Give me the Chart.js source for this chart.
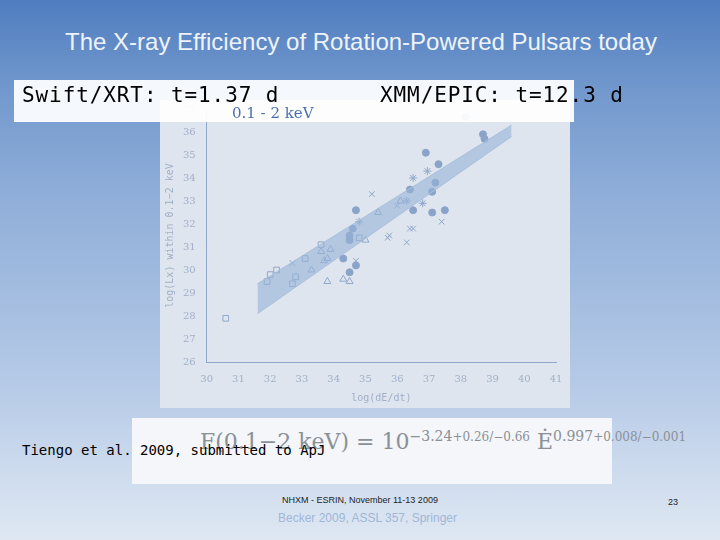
<!DOCTYPE html><html><head><meta charset="utf-8">
<script src="https://cdn.jsdelivr.net/npm/chart.js@4"></script>
<style>
body{margin:0;width:720px;height:540px;overflow:hidden;position:relative;font-family:"Liberation Sans",sans-serif;
background:linear-gradient(180deg,#4f7dbf 0%,#6f96cc 15%,#8eadd8 35%,#b4c9e6 70%,#dfe8f3 100%);}
.abs{position:absolute}
#title{left:0;width:722px;top:28px;text-align:center;color:#eef3fa;font-size:24px}
#strip{left:14px;top:80px;width:560px;height:42px;background:rgba(255,255,255,0.93);z-index:3}
.mono{font-family:"DejaVu Sans Mono",monospace;color:#000;z-index:4}
#box{left:132px;top:418px;width:480px;height:66px;background:#f4f6f9;z-index:1}
#formula{left:200px;top:428px;font-family:"DejaVu Serif",serif;color:#8a9098;font-size:22px;z-index:2}
</style></head><body>
<div id="title" class="abs">The X-ray Efficiency of Rotation-Powered Pulsars today</div>
<div class="abs" style="left:160px;top:100px;width:410px;height:308px;background:#dfe5ee"><canvas id="c" width="410" height="308"></canvas></div>
<div id="strip" class="abs"></div>
<div class="abs mono" style="left:22px;top:83px;font-size:21px;letter-spacing:0.9px">Swift/XRT: t=1.37 d</div>
<div class="abs mono" style="left:380px;top:83px;font-size:21px;letter-spacing:0.9px">XMM/EPIC: t=12.3 d</div>
<div class="abs" style="left:232px;top:104px;font-family:'DejaVu Serif',serif;color:#4a6fb0;font-size:15px;z-index:4">0.1 - 2 keV</div>
<div id="box" class="abs"></div>
<div id="formula" class="abs">F(0.1−2 keV) = 10<sup style="font-size:14px">−3.24<span style="font-size:12px">+0.26/−0.66</span></sup> Ė<sup style="font-size:14px">0.997<span style="font-size:12px">+0.008/−0.001</span></sup></div>
<div class="abs mono" style="left:22px;top:442px;font-size:14px">Tiengo et al. 2009, submitted to ApJ</div>
<div class="abs" style="left:282px;top:495px;font-size:9px;color:#222">NHXM - ESRIN, November 11-13 2009</div>
<div class="abs" style="left:668px;top:497px;font-size:9px;color:#222">23</div>
<div class="abs" style="left:278px;top:511px;font-size:12px;color:#9fb6d8">Becker 2009, ASSL 357, Springer</div>
<script>
const crab=[[38.15,36.66],[38.7,35.9],[38.75,35.7],[36.9,35.1],[37.3,34.6],[37.2,33.8],[37.1,33.4],[36.4,33.5],[36.5,32.6],[37.1,32.5],[37.5,32.6],[34.7,32.6],[34.6,31.8],[34.5,31.5],[34.5,31.3],[34.3,30.5],[34.5,29.9],[34.7,30.2]];
const vela=[[36.95,34.3],[36.5,34.0],[34.8,32.1],[36.3,33.0],[36.8,32.9]];
const oldp=[[31.9,29.5],[32.0,29.8],[32.2,30.0],[32.7,29.4],[32.8,29.7],[33.1,30.5],[33.6,31.1],[34.8,31.4],[30.6,27.9]];
const msp=[[33.6,30.8],[33.8,29.5],[33.9,30.9],[33.7,30.4],[33.3,30.0],[34.3,29.6],[34.5,29.5],[35.0,31.3],[35.4,32.5],[36.1,33.0],[33.8,30.5]];
const tuc=[[32.7,30.3],[35.2,33.3],[35.7,31.4],[35.75,31.5],[36.3,31.2],[36.4,31.8],[36.5,31.8],[37.4,32.1],[34.7,30.4],[36.0,32.8]];
const bandTop=[[31.6,29.4],[39.6,36.3]];
const bandBot=[[31.6,28.1],[39.6,35.8]];
const xTicks=[30,31,32,33,34,35,36,37,38,39,40,41];
const yTicks=[26,27,28,29,30,31,32,33,34,35,36,37];
const pts=a=>a.map(p=>({x:p[0],y:p[1]}));
const col='#8fa7c9';
new Chart(document.getElementById('c'),{type:'scatter',data:{datasets:[
{data:pts(bandBot),showLine:true,borderColor:'#a9bfdc',borderWidth:1,pointRadius:0,fill:false},
{data:pts(bandTop),showLine:true,borderColor:'#a9bfdc',borderWidth:1,pointRadius:0,fill:'-1',backgroundColor:'rgba(150,178,215,0.6)'},
{data:pts(crab),pointStyle:'circle',pointRadius:3.5,backgroundColor:'#8aa3c8',borderColor:'#8aa3c8'},
{data:pts(vela),pointStyle:'star',pointRadius:4,borderColor:col},
{data:pts(oldp),pointStyle:'rect',pointRadius:4,backgroundColor:'transparent',borderColor:col},
{data:pts(msp),pointStyle:'triangle',pointRadius:4,backgroundColor:'transparent',borderColor:col},
{data:pts(tuc),pointStyle:'crossRot',pointRadius:4,borderColor:col}
]},options:{animation:false,responsive:false,layout:{padding:{right:14,top:2}},plugins:{legend:{display:false},tooltip:{enabled:false}},
scales:{x:{type:'linear',min:30,max:41,afterBuildTicks:a=>{a.ticks=xTicks.map(v=>({value:v}))},grid:{display:false},border:{color:col},
ticks:{color:'#9fb0c8',font:{family:'DejaVu Serif',size:10}},title:{display:true,text:'log(dE/dt)',color:'#9fb0c8',font:{family:'DejaVu Sans Mono',size:10}}},
y:{min:26,max:37,afterBuildTicks:a=>{a.ticks=yTicks.map(v=>({value:v}))},grid:{display:false},border:{color:col},
ticks:{color:'#9fb0c8',font:{family:'DejaVu Serif',size:10}},title:{display:true,text:'log(Lx) within 0.1−2 keV',color:'#9fb0c8',font:{family:'DejaVu Sans Mono',size:10}}}}}});
</script></body></html>
